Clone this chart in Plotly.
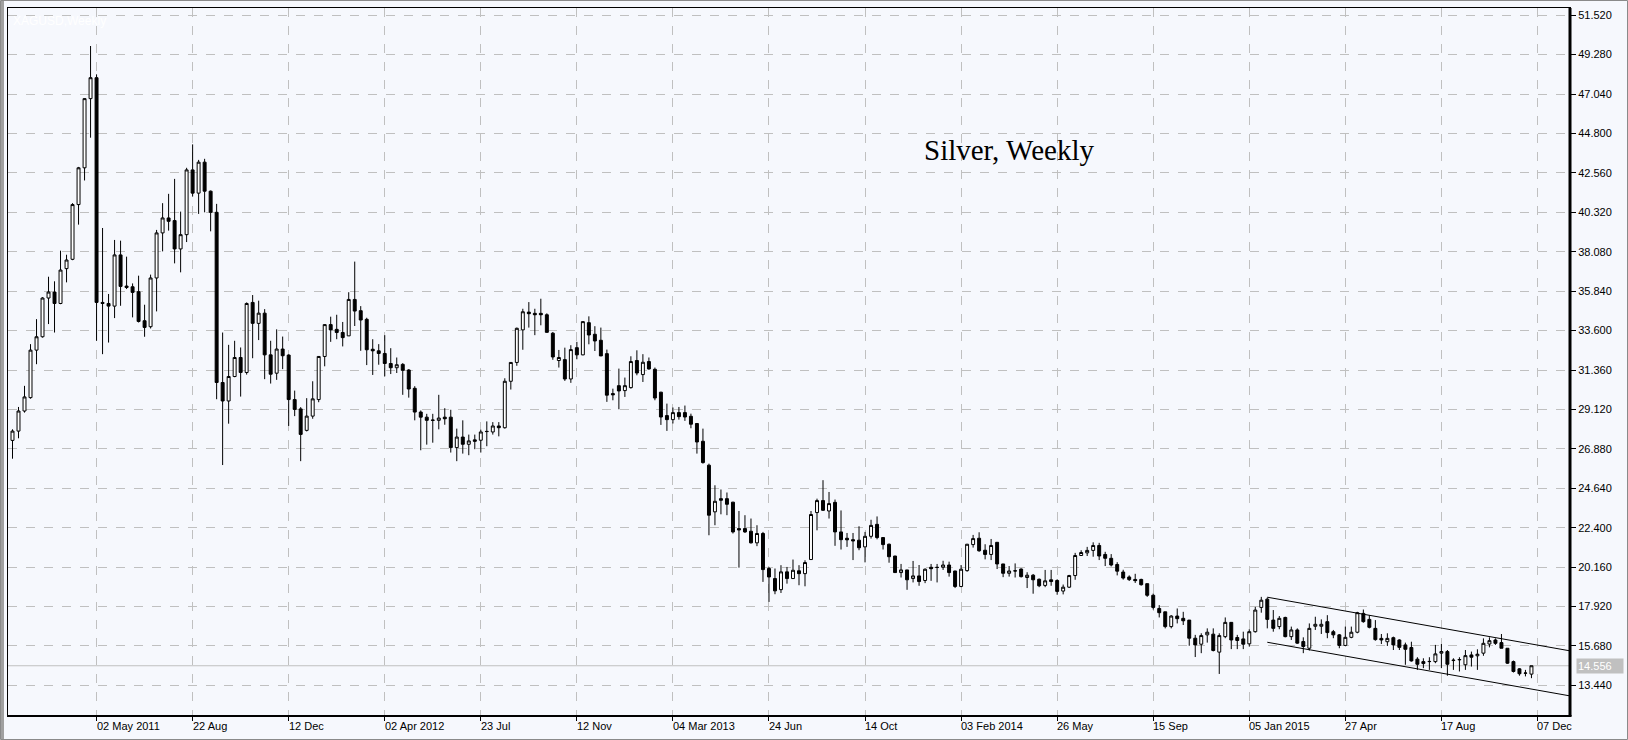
import pandas as pd
import plotly.graph_objects as go

# ---------------- data (weekly XAG/USD) ----------------
first_week = "2011-01-24"

opens = [
    27.36, 27.89, 29.03, 29.79, 32.49, 33.25, 35.45, 35.79, 35.14, 37.12,
    37.65, 40.76, 42.85, 46.78, 47.97, 35.20, 35.14, 34.99, 37.90, 36.13,
    36.09, 35.81, 34.16, 33.82, 36.59, 39.15, 40.00, 39.85, 38.24, 39.05,
    42.73, 41.41, 43.17, 41.52, 40.32, 30.65, 29.60, 30.99, 32.07, 31.22,
    35.20, 34.01, 34.59, 32.22, 31.18, 32.55, 32.21, 29.68, 29.15, 27.93,
    28.74, 29.68, 32.13, 33.94, 33.67, 33.49, 33.30, 35.37, 34.73, 34.24,
    32.54, 32.45, 32.30, 31.73, 31.49, 31.68, 31.36, 30.32, 28.97, 28.68,
    28.52, 28.50, 28.68, 28.68, 26.95, 27.55, 27.14, 27.39, 27.37, 27.86,
    27.84, 28.18, 28.08, 30.72, 31.79, 33.64, 34.65, 34.58, 34.58, 34.50,
    33.45, 31.90, 31.95, 30.85, 32.63, 32.22, 34.05, 33.39, 33.05, 32.29,
    30.02, 30.47, 30.19, 30.36, 31.90, 31.10, 31.84, 31.40, 30.10, 28.77,
    28.54, 28.94, 28.94, 28.73, 28.32, 27.31, 25.95, 23.30, 24.05, 24.05,
    23.85, 22.35, 22.35, 22.20, 21.54, 22.07, 20.08, 19.51, 18.88, 19.89,
    19.51, 19.95, 19.79, 20.59, 23.26, 23.94, 23.35, 23.84, 22.16, 21.80,
    21.72, 21.69, 21.31, 21.91, 22.59, 21.84, 21.46, 20.79, 19.85, 20.00,
    19.51, 19.66, 19.40, 20.15, 20.15, 20.15, 20.28, 19.94, 19.06, 19.96,
    21.44, 21.80, 21.12, 20.88, 21.57, 20.34, 19.81, 19.94, 20.05, 19.57,
    19.70, 19.47, 19.12, 19.44, 19.40, 18.80, 19.02, 19.68, 20.82, 20.97,
    21.11, 21.39, 20.88, 20.66, 20.31, 19.88, 19.60, 19.46, 19.46, 19.22,
    18.56, 17.81, 17.62, 16.78, 17.38, 17.25, 17.15, 16.12, 15.78, 16.31,
    16.35, 15.33, 16.21, 17.02, 16.16, 16.08, 15.80, 16.49, 17.87, 18.34,
    17.15, 16.78, 17.30, 16.21, 16.59, 15.93, 15.55, 16.80, 16.80, 17.06,
    16.49, 16.31, 15.71, 16.17, 16.46, 17.53, 17.19, 16.68, 16.11, 15.92,
    16.15, 16.02, 15.74, 15.59, 14.93, 14.79, 14.79, 14.79, 15.27, 15.36,
    14.85, 14.89, 14.61, 15.17, 15.12, 15.27, 15.79, 16.02, 15.87, 15.55,
    14.79, 14.38, 14.13, 14.08,
]
highs = [
    27.99, 29.26, 30.46, 32.83, 34.25, 35.50, 36.66, 36.40, 38.14, 37.91,
    40.84, 42.90, 46.80, 49.77, 48.16, 39.43, 35.68, 38.75, 38.71, 37.80,
    36.28, 36.72, 35.07, 36.78, 39.32, 40.84, 41.37, 42.22, 40.36, 42.85,
    44.18, 43.30, 43.36, 41.56, 40.80, 33.49, 32.79, 33.02, 32.64, 35.20,
    35.62, 35.30, 34.82, 33.02, 33.67, 33.26, 32.25, 30.19, 29.25, 29.76,
    30.72, 32.15, 33.96, 34.39, 34.50, 34.09, 35.78, 37.52, 34.99, 34.33,
    33.11, 32.83, 33.34, 32.60, 32.07, 31.75, 31.41, 30.44, 29.06, 28.87,
    28.87, 29.95, 29.19, 29.10, 28.03, 28.50, 27.69, 27.69, 27.97, 28.44,
    28.40, 28.40, 30.89, 31.80, 33.77, 34.84, 35.22, 34.84, 35.41, 34.58,
    33.52, 32.50, 32.63, 32.77, 32.96, 34.12, 34.41, 33.85, 33.77, 32.52,
    30.30, 31.44, 30.93, 32.14, 32.48, 32.26, 32.07, 31.50, 30.12, 29.45,
    29.23, 29.26, 29.34, 28.88, 28.35, 28.03, 26.04, 24.81, 24.57, 24.40,
    23.87, 23.35, 23.11, 22.92, 22.54, 22.16, 20.17, 20.08, 20.27, 20.17,
    20.59, 20.27, 20.55, 23.35, 24.05, 25.10, 24.43, 24.00, 23.38, 22.10,
    22.10, 22.48, 22.16, 22.85, 23.04, 21.87, 21.50, 20.80, 20.34, 20.00,
    20.51, 20.28, 20.09, 20.34, 20.34, 20.52, 20.47, 19.95, 20.28, 21.48,
    21.99, 22.14, 21.46, 21.76, 21.57, 20.34, 20.22, 20.37, 20.09, 19.87,
    19.77, 19.51, 20.00, 20.00, 19.47, 19.17, 19.72, 20.97, 21.12, 21.31,
    21.57, 21.54, 21.03, 20.90, 20.44, 20.01, 19.69, 19.78, 19.50, 19.22,
    18.66, 18.00, 17.62, 17.43, 17.81, 17.62, 17.15, 16.31, 16.40, 16.68,
    16.68, 16.40, 17.30, 17.02, 16.31, 16.49, 16.63, 17.90, 18.47, 18.43,
    17.72, 17.38, 17.34, 16.78, 16.68, 16.17, 16.96, 17.34, 17.19, 17.43,
    16.59, 16.36, 16.78, 16.78, 17.62, 17.75, 17.43, 17.15, 16.36, 16.40,
    16.21, 16.06, 15.87, 15.92, 15.04, 14.98, 15.04, 15.74, 15.79, 15.45,
    14.98, 15.04, 15.45, 15.36, 15.49, 16.11, 16.17, 16.11, 16.36, 15.55,
    14.85, 14.42, 14.32, 14.55,
]
lows = [
    26.32, 27.48, 28.94, 29.73, 31.69, 33.20, 33.97, 33.49, 35.10, 36.34,
    37.60, 39.62, 42.13, 44.56, 33.02, 32.26, 32.92, 34.31, 35.01, 35.96,
    34.35, 34.06, 33.25, 33.72, 34.69, 38.10, 39.28, 37.42, 36.91, 38.63,
    41.22, 40.23, 40.32, 39.24, 29.70, 25.96, 28.31, 30.95, 29.85, 31.10,
    32.03, 33.06, 30.84, 30.59, 30.80, 31.41, 28.18, 28.74, 26.18, 27.87,
    28.59, 29.53, 31.57, 32.96, 33.11, 32.70, 33.30, 33.86, 32.45, 31.64,
    31.08, 31.66, 31.00, 31.13, 31.19, 29.95, 29.79, 28.50, 26.80, 27.12,
    27.23, 27.99, 28.25, 26.67, 26.18, 26.61, 26.52, 26.86, 26.67, 27.03,
    27.69, 27.59, 28.03, 30.25, 31.60, 32.51, 33.77, 33.34, 33.90, 33.48,
    31.94, 31.50, 30.74, 30.63, 31.97, 32.20, 32.82, 32.44, 32.15, 29.55,
    29.64, 29.13, 29.83, 30.30, 31.06, 30.68, 31.38, 29.64, 28.24, 27.90,
    28.32, 28.54, 28.47, 28.05, 26.61, 26.04, 21.97, 22.54, 23.16, 23.11,
    22.07, 20.13, 22.10, 21.50, 21.35, 19.32, 18.18, 18.62, 18.69, 19.22,
    19.50, 19.13, 19.07, 20.58, 22.25, 23.35, 22.92, 21.37, 21.16, 21.31,
    20.56, 21.12, 20.43, 21.78, 21.74, 21.16, 20.41, 19.84, 19.57, 18.87,
    19.29, 19.10, 19.25, 19.38, 19.29, 20.00, 19.62, 18.97, 19.02, 19.90,
    21.27, 21.03, 20.60, 20.56, 20.05, 19.59, 19.62, 19.57, 19.57, 18.97,
    18.65, 19.02, 19.02, 19.10, 18.59, 18.61, 18.97, 19.44, 20.79, 20.79,
    20.75, 20.56, 20.22, 20.20, 19.69, 19.45, 19.37, 19.26, 19.11, 18.47,
    17.75, 17.30, 16.68, 16.68, 16.96, 16.87, 15.69, 15.05, 15.27, 15.87,
    15.37, 14.09, 16.12, 15.50, 15.50, 15.50, 15.65, 16.44, 17.57, 16.68,
    16.49, 16.63, 16.17, 16.02, 15.80, 15.27, 15.42, 16.59, 16.36, 16.12,
    16.12, 15.55, 15.69, 16.12, 16.40, 17.00, 16.68, 15.98, 15.79, 15.68,
    15.45, 15.45, 14.61, 14.79, 14.32, 14.42, 14.32, 14.70, 14.42, 13.99,
    14.32, 14.23, 14.32, 14.51, 14.32, 15.12, 15.60, 15.74, 15.55, 14.66,
    14.17, 13.99, 13.95, 13.85,
]
closes = [
    27.89, 29.03, 29.83, 32.49, 33.25, 35.45, 35.79, 35.14, 37.04, 37.61,
    40.76, 42.85, 46.78, 47.97, 35.20, 35.14, 34.99, 37.90, 36.11, 36.05,
    35.77, 34.12, 33.78, 36.59, 39.15, 40.00, 39.81, 38.24, 39.05, 42.73,
    41.41, 43.17, 41.52, 40.32, 30.65, 29.60, 30.99, 32.07, 31.22, 35.14,
    34.01, 34.59, 32.22, 31.12, 32.55, 32.17, 29.68, 29.12, 27.70, 28.74,
    29.72, 32.13, 33.94, 33.64, 33.49, 33.20, 35.37, 34.71, 34.20, 32.51,
    32.45, 32.30, 31.73, 31.49, 31.66, 31.34, 30.28, 28.97, 28.68, 28.50,
    28.50, 28.63, 28.59, 26.95, 27.55, 27.14, 27.33, 27.31, 27.84, 27.87,
    28.18, 28.08, 30.72, 31.79, 33.73, 34.67, 34.56, 34.50, 34.50, 33.50,
    32.10, 32.07, 30.85, 32.52, 32.22, 34.11, 33.35, 33.01, 32.16, 29.93,
    29.95, 30.17, 30.47, 31.84, 31.19, 31.80, 31.42, 29.77, 28.69, 28.54,
    28.94, 28.71, 28.69, 28.28, 27.27, 26.10, 23.11, 23.90, 23.96, 23.73,
    22.16, 22.27, 22.16, 21.54, 22.07, 20.02, 19.60, 18.81, 19.89, 19.51,
    19.98, 19.79, 20.42, 23.15, 23.94, 23.39, 23.77, 22.16, 21.72, 21.71,
    21.65, 21.26, 21.91, 22.53, 21.84, 21.44, 20.75, 19.85, 20.00, 19.44,
    19.66, 19.34, 20.04, 20.07, 20.14, 20.28, 19.85, 19.06, 20.04, 21.46,
    21.78, 21.09, 20.88, 21.39, 20.34, 19.81, 19.94, 19.95, 19.62, 19.70,
    19.44, 19.10, 19.38, 19.34, 18.78, 19.02, 19.68, 20.82, 20.99, 21.11,
    21.39, 20.79, 20.66, 20.28, 19.93, 19.54, 19.45, 19.39, 19.16, 18.56,
    17.87, 17.57, 16.78, 17.38, 17.23, 17.11, 16.12, 15.74, 16.27, 16.46,
    15.42, 16.27, 17.02, 16.02, 15.99, 15.78, 16.49, 17.72, 18.28, 17.19,
    16.68, 17.25, 16.21, 16.59, 15.84, 15.65, 16.68, 16.91, 16.91, 16.44,
    16.31, 15.71, 16.17, 16.46, 17.57, 17.06, 16.74, 16.04, 16.02, 16.11,
    15.74, 15.60, 15.49, 14.83, 14.64, 14.68, 14.80, 15.23, 15.36, 14.64,
    14.87, 14.91, 15.13, 15.04, 15.21, 15.83, 15.98, 15.83, 15.55, 14.70,
    14.23, 14.10, 14.14, 14.556,
]

tick_dates = ["2011-05-02", "2011-08-22", "2011-12-12", "2012-04-02", "2012-07-23",
              "2012-11-12", "2013-03-04", "2013-06-24", "2013-10-14", "2014-02-03",
              "2014-05-26", "2014-09-15", "2015-01-05", "2015-04-27", "2015-08-17",
              "2015-12-07"]
tick_texts = ["02 May 2011", "22 Aug", "12 Dec", "02 Apr 2012", "23 Jul", "12 Nov",
              "04 Mar 2013", "24 Jun", "14 Oct", "03 Feb 2014", "26 May", "15 Sep",
              "05 Jan 2015", "27 Apr", "17 Aug", "07 Dec"]
price_ticks = [13.44, 15.68, 17.92, 20.16, 22.40, 24.64, 26.88, 29.12, 31.36, 33.60,
               35.84, 38.08, 40.32, 42.56, 44.80, 47.04, 49.28, 51.52]

# channel (trend lines) anchors: start date / end date and prices
channel_dates = ["2015-01-26", "2015-11-30"]
channel_upper = [18.45, 15.79]
channel_lower = [15.89, 13.23]
last_price = 14.556

# ---------------- figure ----------------
dates = pd.date_range(first_week, periods=len(opens), freq="7D")
anchor = pd.Timestamp("2011-05-02")
x_left = anchor + pd.Timedelta(days=7 * -14.75)
x_right = anchor + pd.Timedelta(days=7 * 245.42)

BG = "#F6F8FD"
GRID = "#C0C0C0"

fig = go.Figure()
fig.add_trace(go.Candlestick(
    x=dates, open=opens, high=highs, low=lows, close=closes,
    increasing=dict(line=dict(color="black", width=1), fillcolor="white"),
    decreasing=dict(line=dict(color="black", width=1), fillcolor="black"),
    whiskerwidth=0, showlegend=False, hoverinfo="skip",
))

shapes = []
c0 = pd.Timestamp(channel_dates[0])
c1 = pd.Timestamp(channel_dates[1])
span = (c1 - c0) / pd.Timedelta(days=1)
ext = (x_right - c0) / pd.Timedelta(days=1)
for vals in (channel_upper, channel_lower):
    slope = (vals[1] - vals[0]) / span
    shapes.append(dict(type="line", xref="x", yref="y", x0=c0, y0=vals[0],
                       x1=x_right, y1=vals[0] + slope * ext,
                       line=dict(color="black", width=1)))
shapes.append(dict(type="line", xref="paper", yref="y", x0=0, x1=1,
                   y0=last_price, y1=last_price, line=dict(color="#C0C0C0", width=1),
                   layer="below"))
shapes.append(dict(type="line", xref="paper", yref="paper", x0=1, x1=1, y0=0, y1=1,
                   line=dict(color="black", width=3)))
shapes.append(dict(type="line", xref="paper", yref="paper", x0=0, x1=1.001, y0=0, y1=0,
                   line=dict(color="black", width=2)))
W, H = 1628, 740
ml, mr, mt, mb = 8, 58, 8, 24
pw, ph = W - ml - mr, H - mt - mb
shapes.append(dict(type="rect", xref="paper", yref="paper",
                   x0=(0.5 - ml) / pw, x1=(W - 0.5 - ml) / pw,
                   y0=-(mb - 0.5) / ph, y1=1 + (mt - 0.5) / ph,
                   line=dict(color="#8A8A8A", width=1)))
shapes.append(dict(type="line", xref="paper", yref="paper",
                   x0=(2.5 - ml) / pw, x1=(2.5 - ml) / pw,
                   y0=-(mb - 1) / ph, y1=1 + (mt - 1) / ph,
                   line=dict(color="#A0A0A0", width=3)))

annotations = []
for d, t in zip(tick_dates, tick_texts):
    annotations.append(dict(x=d, y=0, xref="x", yref="paper", text=t, showarrow=False,
                            xanchor="left", yanchor="top", xshift=-2, yshift=-2,
                            font=dict(family="Liberation Sans, Arial", size=11, color="black")))
annotations.append(dict(x=1, y=last_price, xref="paper", yref="y", text="14.556",
                        showarrow=False, xanchor="left", yanchor="middle", xshift=6,
                        bgcolor="#C0C0C0", borderpad=1, width=44, align="left",
                        font=dict(family="Liberation Sans, Arial", size=11, color="white")))
annotations.append(dict(x=(1009 - ml) / pw, y=1 - (150 - mt) / ph, xref="paper", yref="paper",
                        text="Silver, Weekly", showarrow=False, xanchor="center",
                        yanchor="middle",
                        font=dict(family="Liberation Serif, Times New Roman", size=29,
                                  color="black")))
annotations.append(dict(x=0, y=1, xref="paper", yref="paper", text="XAGUSD,Weekly",
                        showarrow=False, xanchor="left", yanchor="top", xshift=3, yshift=-4,
                        font=dict(family="Liberation Sans, Arial", size=12, color="white")))

fig.update_layout(
    width=W, height=H,
    margin=dict(l=ml, r=mr, t=mt, b=mb, pad=0),
    paper_bgcolor=BG, plot_bgcolor=BG,
    showlegend=False,
    shapes=shapes, annotations=annotations,
    xaxis=dict(
        type="date", range=[x_left, x_right], rangeslider=dict(visible=False),
        tickvals=tick_dates, showticklabels=False,
        ticks="outside", ticklen=4, tickcolor="black",
        showgrid=True, gridcolor=GRID, griddash="dash", gridwidth=1,
        showline=True, linecolor="black", linewidth=1, mirror=True,
        zeroline=False, fixedrange=True,
    ),
    yaxis=dict(
        range=[11.70, 51.93], side="right",
        tickvals=price_ticks, ticktext=[f"{v:.3f}" for v in price_ticks],
        ticks="outside", ticklen=5, tickcolor="black",
        tickfont=dict(family="Liberation Sans, Arial", size=11, color="black"),
        showgrid=True, gridcolor=GRID, griddash="dash", gridwidth=1,
        showline=True, linecolor="black", linewidth=1, mirror=True,
        zeroline=False, fixedrange=True,
    ),
)

fig.write_html("out.html", config={"displayModeBar": False},
               post_script="document.body.style.margin='0px';"
                           "document.body.style.overflow='hidden';")
